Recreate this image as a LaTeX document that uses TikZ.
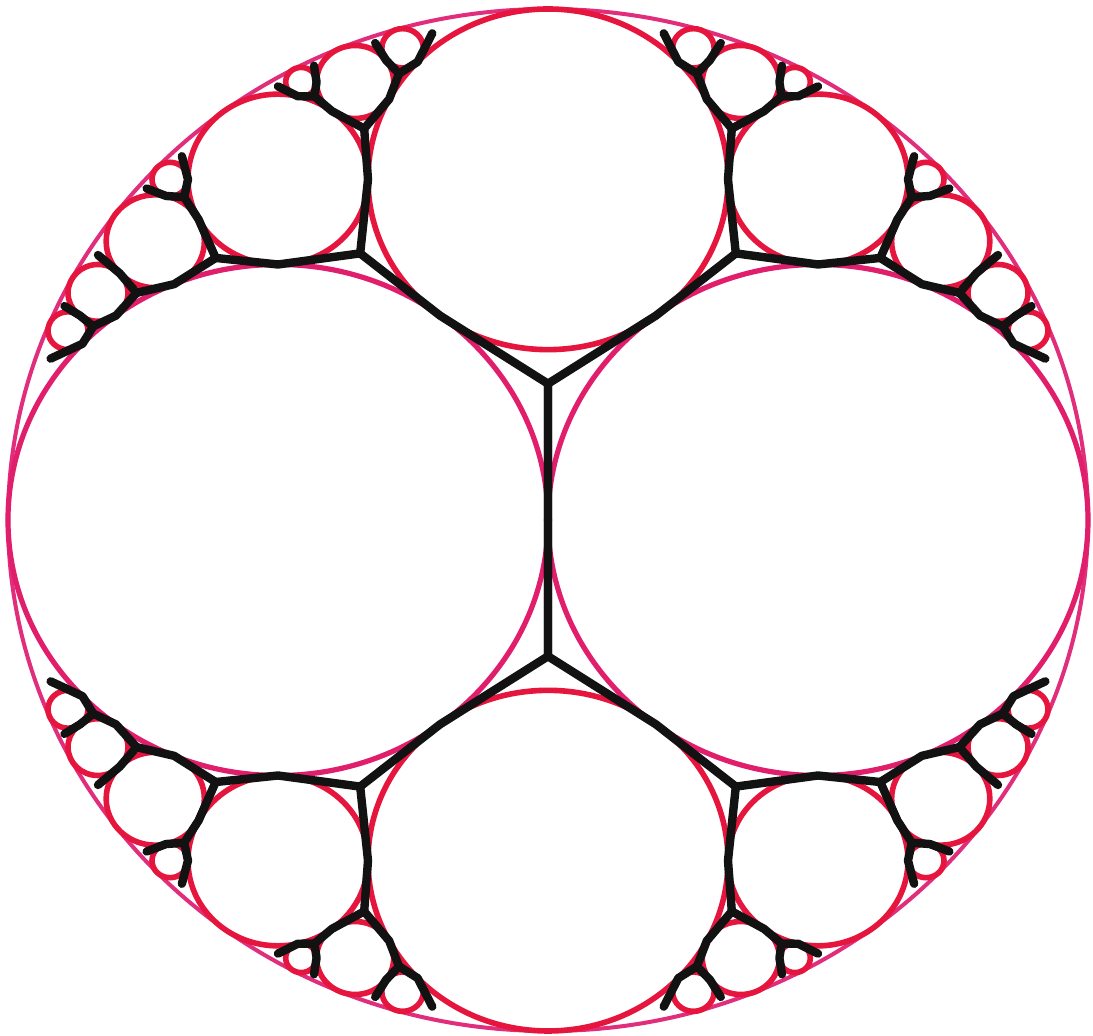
\documentclass[tikz,border=0pt]{standalone}
\definecolor{inkred}{HTML}{E5153D}
\definecolor{inkrose}{HTML}{E01E6C}
\definecolor{inkrim}{HTML}{E02E7C}
\definecolor{inkblack}{HTML}{121212}
\tikzset{
	disc/.style={draw=inkred, line width=2.8pt},
	bigdisc/.style={draw=inkrose, line width=2.6pt},
	rim/.style={draw=inkrim, line width=2pt},
	tree/.style={draw=inkblack, line width=4.2pt, line cap=round, line join=round}
}
% circles of the upper left quarter, the other quarters are mirror images
\newcommand{\quartercircles}{
	\coordinate (cTL) at (-0.5, 0.66667);
	\coordinate (c11) at (-0.72727, 0.54545);
	\coordinate (c14) at (-0.35714, 0.85714);
	\coordinate (c18) at (-0.83333, 0.44444);
	\coordinate (c26) at (-0.26923, 0.92308);
	\coordinate (c27) at (-0.88889, 0.37037);
	\coordinate (c30) at (-0.7, 0.66667);
	\coordinate (c35) at (-0.45714, 0.85714);
	\draw[disc] (cTL) circle[radius=0.16667];
	\draw[disc] (c11) circle[radius=0.090909];
	\draw[disc] (c14) circle[radius=0.071429];
	\draw[disc] (c18) circle[radius=0.055556];
	\draw[disc] (c26) circle[radius=0.038462];
	\draw[disc] (c27) circle[radius=0.037037];
	\draw[disc] (c30) circle[radius=0.033333];
	\draw[disc] (c35) circle[radius=0.028571];
}
% dual tree of the same quarter: gaps joined through touching points
\newcommand{\quartertree}{
	% gaps
	\coordinate (g0) at (0, 0.26667);
	\coordinate (g1) at (-0.34783, 0.52174);
	\coordinate (g2) at (-0.61538, 0.51282);
	\coordinate (g3) at (-0.34043, 0.76596);
	\coordinate (g4) at (-0.27586, 0.87356);
	\coordinate (g5) at (-0.43243, 0.82883);
	\coordinate (g6) at (-0.67368, 0.63158);
	\coordinate (g7) at (-0.76190, 0.44444);
	\coordinate (g8) at (-0.84211, 0.37895);
	% gaps at the rim
	\coordinate (l4a) at (-0.21429, 0.95238);
	\coordinate (l4b) at (-0.32, 0.93333);
	\coordinate (l5a) at (-0.43333, 0.88889);
	\coordinate (l5b) at (-0.5, 0.84848);
	\coordinate (l6a) at (-0.67797, 0.71186);
	\coordinate (l6b) at (-0.74324, 0.64865);
	\coordinate (l7) at (-0.83333, 0.51852);
	\coordinate (l8a) at (-0.89535, 0.41860);
	\coordinate (l8b) at (-0.92105, 0.31579);
	% touching points
	\coordinate (tLR) at (0, 0);
	\coordinate (tLT) at (-0.2, 0.4);
	\coordinate (tLTL) at (-0.5, 0.5);
	\coordinate (tTTL) at (-0.33333, 0.66667);
	\coordinate (tTL11) at (-0.64706, 0.58824);
	\coordinate (tL11) at (-0.69231, 0.46154);
	\coordinate (tT14) at (-0.29412, 0.82353);
	\coordinate (tTL14) at (-0.4, 0.8);
	\coordinate (tL18) at (-0.8, 0.4);
	\coordinate (tT26) at (-0.24138, 0.89655);
	\coordinate (t1426) at (-0.3, 0.9);
	\coordinate (t1435) at (-0.42857, 0.85714);
	\coordinate (tTL35) at (-0.46341, 0.82927);
	\coordinate (tTL30) at (-0.66667, 0.66667);
	\coordinate (t1130) at (-0.70732, 0.63415);
	\coordinate (t1118) at (-0.79310, 0.48276);
	\coordinate (t1827) at (-0.86667, 0.4);
	\coordinate (tL27) at (-0.86207, 0.34483);
	\draw[tree] (tLR) -- (g0) -- (tLT) -- (g1);
	\draw[tree] (g1) -- (tLTL) -- (g2);
	\draw[tree] (g1) -- (tTTL) -- (g3);
	\draw[tree] (g2) -- (tTL11) -- (g6);
	\draw[tree] (g2) -- (tL11) -- (g7);
	\draw[tree] (g3) -- (tT14) -- (g4);
	\draw[tree] (g3) -- (tTL14) -- (g5);
	\draw[tree] (g7) -- (tL18) -- (g8);
	\draw[tree] (l4a) -- (tT26) -- (g4) -- (t1426) -- (l4b);
	\draw[tree] (l5a) -- (t1435) -- (g5) -- (tTL35) -- (l5b);
	\draw[tree] (l6a) -- (tTL30) -- (g6) -- (t1130) -- (l6b);
	\draw[tree] (g7) -- (t1118) -- (l7);
	\draw[tree] (l8a) -- (t1827) -- (g8) -- (tL27) -- (l8b);
}

\begin{document}
\begin{tikzpicture}[x=270pt, y=255.5pt]
	\fill[white] (-1.01481,-1.00978) rectangle (1.00926,1.01761);
	\useasboundingbox (-1.01481,-1.00978) rectangle (1.00926,1.01761);
	\coordinate (cO) at (0,0);
	\coordinate (cL) at (-0.5,0);
	\coordinate (cR) at (0.5,0);
	\coordinate (cT) at (0,0.66667);
	\coordinate (cB) at (0,-0.66667);
	\draw[rim] (cO) circle[radius=1];
	\draw[bigdisc] (cL) circle[radius=0.5];
	\draw[bigdisc] (cR) circle[radius=0.5];
	\draw[disc] (cT) circle[radius=0.33333];
	\draw[disc] (cB) circle[radius=0.33333];
	\foreach \sx/\sy in {1/1,-1/1,1/-1,-1/-1}{
		\begin{scope}[xscale=\sx, yscale=\sy]
			\quartercircles
		\end{scope}
	}
	\foreach \sx/\sy in {1/1,-1/1,1/-1,-1/-1}{
		\begin{scope}[xscale=\sx, yscale=\sy]
			\quartertree
		\end{scope}
	}
\end{tikzpicture}
\end{document}
